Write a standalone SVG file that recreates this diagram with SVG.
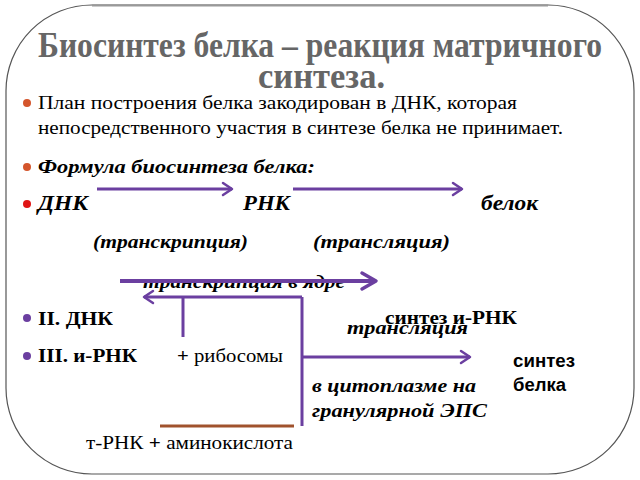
<svg xmlns="http://www.w3.org/2000/svg" width="640" height="480" viewBox="0 0 640 480">
<defs>
<marker id="chev" viewBox="-1 -1 12 14" refX="9" refY="6" markerWidth="12" markerHeight="14" markerUnits="userSpaceOnUse" orient="auto" overflow="visible">
<path d="M0,0 L9,6 L0,12" fill="none" stroke="#6B3FA0" stroke-width="2.5" stroke-linecap="round" stroke-linejoin="round"/>
</marker>
<marker id="chevBig" viewBox="-1 -1 16 18" refX="14" refY="8" markerWidth="16" markerHeight="18" markerUnits="userSpaceOnUse" orient="auto" overflow="visible">
<path d="M0,0 L14,8 L0,16" fill="none" stroke="#6B3FA0" stroke-width="3.5" stroke-linecap="round" stroke-linejoin="round"/>
</marker>
</defs>
<rect x="0" y="0" width="640" height="480" fill="#fff"/>
<path d="M92,5 H548 A86,86 0 0 1 634,91 V388 A86,86 0 0 1 548,474 H92 A86,86 0 0 1 6,388 V91 A86,86 0 0 1 92,5 Z" fill="none" stroke="#555" stroke-width="1.2"/>
<path d="M92,5.5 H548" stroke="#999" stroke-width="2" fill="none"/>
<g id="title" fill="#666" font-weight="bold" font-size="36">
<text font-family="Liberation Serif" x="38" y="57" textLength="564" lengthAdjust="spacingAndGlyphs">Биосинтез белка – реакция матричного</text>
<text font-family="Liberation Serif" x="258" y="88" textLength="127" lengthAdjust="spacingAndGlyphs">синтеза.</text>
</g>
<g id="bullets">
<circle cx="27" cy="103" r="4" fill="#D4552C"/>
<circle cx="27" cy="167" r="4" fill="#D4552C"/>
<circle cx="27" cy="204" r="4" fill="#E01515"/>
<circle cx="27" cy="318" r="4" fill="#6B3FA0"/>
<circle cx="27" cy="356" r="4" fill="#6B3FA0"/>
</g>
<g id="plan" fill="#000" font-size="19">
<text font-family="Liberation Serif" x="38" y="109" textLength="479" lengthAdjust="spacingAndGlyphs">План построения белка закодирован в ДНК, которая</text>
<text font-family="Liberation Serif" x="38" y="134" textLength="525" lengthAdjust="spacingAndGlyphs">непосредственного участия в синтезе белка не принимает.</text>
</g>
<g id="formula">
<text font-family="Liberation Serif" font-weight="bold" font-style="italic" x="38" y="173" font-size="19" textLength="277" lengthAdjust="spacingAndGlyphs">Формула биосинтеза белка:</text>
</g>
<g id="dnk"><text font-family="Liberation Serif" font-weight="bold" font-style="italic" x="38" y="210" font-size="20" textLength="50" lengthAdjust="spacingAndGlyphs">ДНК</text></g>
<g id="rnk"><text font-family="Liberation Serif" font-weight="bold" font-style="italic" x="243" y="210" font-size="20" textLength="47" lengthAdjust="spacingAndGlyphs">РНК</text></g>
<g id="belok"><text font-family="Liberation Serif" font-weight="bold" font-style="italic" x="481" y="210" font-size="20" textLength="57" lengthAdjust="spacingAndGlyphs">белок</text></g>
<g id="labels1">
<text font-family="Liberation Serif" font-weight="bold" font-style="italic" x="93" y="248" font-size="19" textLength="155" lengthAdjust="spacingAndGlyphs">(транскрипция)</text>
<text font-family="Liberation Serif" font-weight="bold" font-style="italic" x="313" y="248" font-size="19" textLength="137" lengthAdjust="spacingAndGlyphs">(трансляция)</text>
</g>
<g id="transcr-nucleus">
<text font-family="Liberation Serif" font-weight="bold" font-style="italic" x="143" y="288" font-size="19" textLength="202" lengthAdjust="spacingAndGlyphs">транскрипция в ядре</text>
</g>
<g id="dnk2"><text font-family="Liberation Serif" font-weight="bold" x="38" y="325" font-size="19" textLength="75" lengthAdjust="spacingAndGlyphs">II. ДНК</text></g>
<g id="synth-mrna"><text font-family="Liberation Serif" font-weight="bold" x="385" y="324" font-size="19" textLength="132" lengthAdjust="spacingAndGlyphs">синтез и-РНК</text></g>
<g id="translation"><text font-family="Liberation Serif" font-weight="bold" font-style="italic" x="347" y="334" font-size="19" textLength="121" lengthAdjust="spacingAndGlyphs">трансляция</text></g>
<g id="mrna3"><text font-family="Liberation Serif" font-weight="bold" x="38" y="362" font-size="19" textLength="99" lengthAdjust="spacingAndGlyphs">III. и-РНК</text></g>
<g id="ribosomes"><text font-family="Liberation Serif" x="177" y="362" font-size="19" textLength="106" lengthAdjust="spacingAndGlyphs"><tspan font-weight="bold">+</tspan> рибосомы</text></g>
<g id="cytoplasm">
<text font-family="Liberation Serif" font-weight="bold" font-style="italic" x="312" y="392" font-size="19" textLength="164" lengthAdjust="spacingAndGlyphs">в цитоплазме на</text>
<text font-family="Liberation Serif" font-weight="bold" font-style="italic" x="312" y="417" font-size="19" textLength="175" lengthAdjust="spacingAndGlyphs">гранулярной ЭПС</text>
</g>
<g id="trna"><text font-family="Liberation Serif" x="86" y="449" font-size="19" textLength="207" lengthAdjust="spacingAndGlyphs">т-РНК <tspan font-weight="bold">+</tspan> аминокислота</text></g>
<g id="synth-protein">
<text font-family="Liberation Sans" font-weight="bold" x="513" y="367" font-size="18" textLength="62" lengthAdjust="spacingAndGlyphs">синтез</text>
<text font-family="Liberation Sans" font-weight="bold" x="513" y="391" font-size="18" textLength="53" lengthAdjust="spacingAndGlyphs">белка</text>
</g>
<g id="connectors" fill="none" stroke="#6B3FA0" stroke-width="3">
<path d="M97,189 H232" marker-end="url(#chev)"/>
<path d="M293,189 H462" marker-end="url(#chev)"/>
<path d="M120,281 H376" stroke-width="4" marker-end="url(#chevBig)"/>
<path d="M302,297 H144" marker-end="url(#chev)"/>
<path d="M183,297 V337"/>
<path d="M302,297 V426"/>
<path d="M302,357 H470" marker-end="url(#chev)"/>
<path d="M160,426 H294" stroke="#A0522D"/>
</g>
</svg>
